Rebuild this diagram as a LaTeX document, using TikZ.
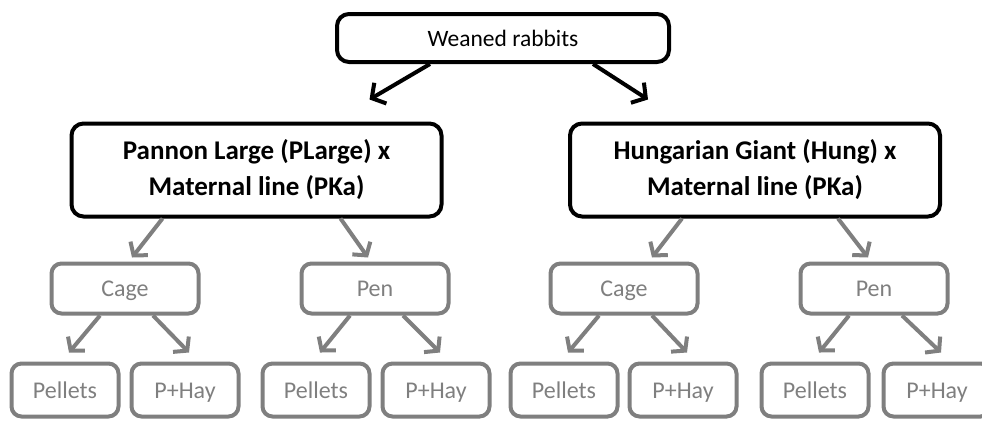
\documentclass[tikz,border=0pt]{standalone}
\usepackage{fontspec}
\setmainfont{Carlito}
\usetikzlibrary{arrows.meta}
\definecolor{boxgray}{HTML}{7F7F7F}
\begin{document}
\begin{tikzpicture}[x=1pt,y=-1pt,
  topbox/.style={draw=black,line width=4pt,rounded corners=12pt,align=center,
    font=\fontsize{23.5}{35}\selectfont},
  breedbox/.style={topbox,font=\fontsize{27}{36}\selectfont\bfseries},
  subbox/.style={draw=boxgray,text=boxgray,line width=4pt,rounded corners=10pt,
    align=center,text height=18pt,text depth=2pt,font=\fontsize{24}{28}\selectfont},
  blackarrow/.style={line width=4pt,-{Straight Barb[length=10pt,width=24pt]}},
  grayarrow/.style={draw=boxgray,line width=4pt,-{Straight Barb[length=9pt,width=22pt]}}]
\useasboundingbox (0,0) rectangle (982,421);
\clip (0,0) rectangle (982,421);
% top
\node[topbox,minimum width=332pt,minimum height=48pt] (wean) at (503,38) {Weaned rabbits};
% breeds
\node[breedbox,minimum width=370pt,minimum height=93pt] (plarge) at (256.5,170)
  {Pannon Large (PLarge) x\\Maternal line (PKa)};
\node[breedbox,minimum width=370pt,minimum height=93pt] (hung) at (755,170)
  {Hungarian Giant (Hung) x\\Maternal line (PKa)};
% housing
\node[subbox,minimum width=147pt,minimum height=50pt] (cageA) at (125,288.5) {Cage};
\node[subbox,minimum width=147pt,minimum height=50pt] (penA) at (375,288.5) {Pen};
\node[subbox,minimum width=147pt,minimum height=50pt] (cageB) at (624,288.5) {Cage};
\node[subbox,minimum width=147pt,minimum height=50pt] (penB) at (874,288.5) {Pen};
% diets
\node[subbox,minimum width=107pt,minimum height=53pt] (cageApel) at (65,390) {Pellets};
\node[subbox,minimum width=107pt,minimum height=53pt] (cageAhay) at (185,390) {P+Hay};
\node[subbox,minimum width=107pt,minimum height=53pt] (penApel) at (316,390) {Pellets};
\node[subbox,minimum width=107pt,minimum height=53pt] (penAhay) at (436,390) {P+Hay};
\node[subbox,minimum width=107pt,minimum height=53pt] (cageBpel) at (564,390) {Pellets};
\node[subbox,minimum width=107pt,minimum height=53pt] (cageBhay) at (683,390) {P+Hay};
\node[subbox,minimum width=107pt,minimum height=53pt] (penBpel) at (815,390) {Pellets};
\node[subbox,minimum width=107pt,minimum height=53pt] (penBhay) at (937,390) {P+Hay};
% arrows
\draw[blackarrow] ([xshift=-73pt]wean.south) -- ([xshift=113pt,yshift=22pt]plarge.north);
\draw[blackarrow] ([xshift=90pt]wean.south) -- ([xshift=-107pt,yshift=22pt]hung.north);
\draw[grayarrow] ([xshift=-94pt]plarge.south) -- ([xshift=7pt,yshift=4pt]cageA.north);
\draw[grayarrow] ([xshift=84pt]plarge.south) -- ([xshift=-7pt,yshift=4pt]penA.north);
\draw[grayarrow] ([xshift=-73pt]hung.south) -- ([xshift=28pt,yshift=4pt]cageB.north);
\draw[grayarrow] ([xshift=83pt]hung.south) -- ([xshift=-6pt,yshift=4pt]penB.north);
\foreach \p in {cageA,penA,cageB,penB}{
  \draw[grayarrow] ([xshift=-25pt]\p.south) -- ([xshift=4pt,yshift=9pt]\p pel.north);
  \draw[grayarrow] ([xshift=28pt]\p.south) -- ([xshift=4pt,yshift=9pt]\p hay.north);
}
\end{tikzpicture}
\end{document}
